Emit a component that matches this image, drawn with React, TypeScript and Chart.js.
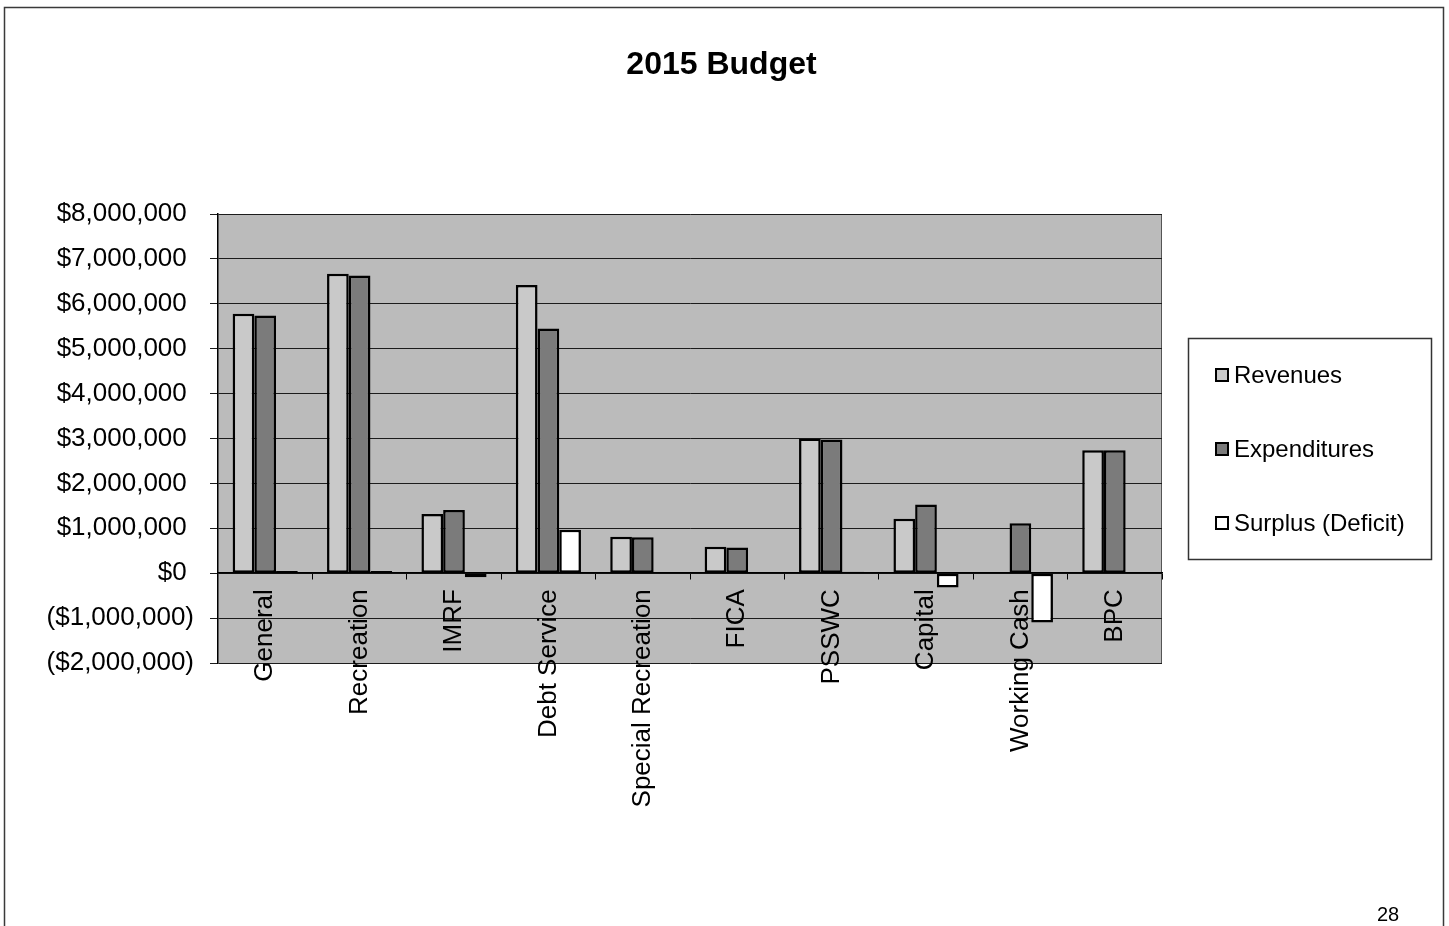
import React, { useEffect, useRef } from "react";
import { Chart, registerables } from "chart.js";

Chart.register(...registerables);

const TITLE = "2015 Budget";
const PAGE_NUMBER = "28";
const FUNDS = [
  "General",
  "Recreation",
  "IMRF",
  "Debt Service",
  "Special Recreation",
  "FICA",
  "PSSWC",
  "Capital",
  "Working Cash",
  "BPC",
];
const SERIES_NAMES = ["Revenues", "Expenditures", "Surplus (Deficit)"];
const REVENUES = [5780000, 6670000, 1320000, 6420000, 810000, 590000, 3000000, 1210000, 10000, 2740000];
const EXPENDITURES = [5740000, 6630000, 1410000, 5450000, 800000, 570000, 2980000, 1530000, 1110000, 2740000];
const SURPLUS = [50000, 50000, -90000, 970000, 10000, 20000, 30000, -320000, -1100000, 0];
const Y_MIN = -2000000;
const Y_MAX = 8000000;
const Y_STEP = 1000000;

const FONT = "'Liberation Sans', Arial, Helvetica, sans-serif";
const PLOT_BG = "#bbbbbb";
const COLORS = ["#c9c9c9", "#7b7b7b", "#ffffff"];

function formatMoney(v: number): string {
  const s = "$" + Math.abs(v).toLocaleString("en-US");
  return v < 0 ? "(" + s + ")" : s + " ";
}

const pagePlugin = {
  id: "pageDecor",
  beforeDraw(chart: any) {
    const { ctx, chartArea: a } = chart;
    ctx.save();
    ctx.fillStyle = "#ffffff";
    ctx.fillRect(0, 0, chart.width, chart.height);
    ctx.fillStyle = PLOT_BG;
    ctx.fillRect(a.left, a.top, a.right - a.left, a.bottom - a.top);
    // page frame
    ctx.strokeStyle = "#3a3a3a";
    ctx.lineWidth = 1.5;
    ctx.beginPath();
    ctx.moveTo(4.5, chart.height);
    ctx.lineTo(4.5, 7.5);
    ctx.lineTo(1443.5, 7.5);
    ctx.lineTo(1443.5, chart.height);
    ctx.stroke();
    // plot right edge
    ctx.strokeStyle = "#555";
    ctx.lineWidth = 1;
    ctx.beginPath();
    ctx.moveTo(a.right - 0.5, a.top);
    ctx.lineTo(a.right - 0.5, a.bottom);
    ctx.stroke();
    ctx.restore();
  },
  afterDraw(chart: any) {
    const { ctx, chartArea: a } = chart;
    ctx.save();
    // legend box
    const lx = a.right + 26;
    const ly = 338;
    const lw = 243;
    const lh = 221;
    ctx.strokeStyle = "#333";
    ctx.lineWidth = 1.5;
    ctx.strokeRect(lx + 0.5, ly + 0.5, lw, lh);
    ctx.font = `24px ${FONT}`;
    ctx.textBaseline = "middle";
    ctx.textAlign = "left";
    chart.data.datasets.forEach((ds: any, i: number) => {
      const cy = 375 + i * 74;
      const bx = lx + 27;
      ctx.fillStyle = ds.backgroundColor;
      ctx.fillRect(bx, cy - 7, 14, 14);
      ctx.strokeStyle = "#000";
      ctx.lineWidth = 2;
      ctx.strokeRect(bx + 1, cy - 6, 12, 12);
      ctx.fillStyle = "#000";
      ctx.fillText(ds.label, bx + 19, cy + 1);
    });
    // page number
    ctx.font = `20px ${FONT}`;
    ctx.textAlign = "center";
    ctx.textBaseline = "alphabetic";
    ctx.fillText(PAGE_NUMBER, 1388, 921);
    ctx.restore();
  },
};

export default function App() {
  const canvasRef = useRef<HTMLCanvasElement | null>(null);

  useEffect(() => {
    if (!canvasRef.current) return;
    const values = [REVENUES, EXPENDITURES, SURPLUS];
    const chart = new Chart(canvasRef.current, {
      type: "bar",
      data: {
        labels: FUNDS,
        datasets: SERIES_NAMES.map((name, i) => ({
          label: name,
          data: values[i],
          backgroundColor: COLORS[i],
          borderColor: "#000000",
          borderWidth: 2.5,
          borderSkipped: false,
          categoryPercentage: 0.69,
          barPercentage: 1.0,
          yAxisID: "y",
        })),
      },
      options: {
        responsive: false,
        maintainAspectRatio: false,
        animation: false,
        devicePixelRatio: 1,
        layout: { padding: { left: 0, right: 6, top: 0, bottom: 263 } },
        plugins: {
          legend: { display: false },
          tooltip: { enabled: false },
          title: {
            display: true,
            text: TITLE,
            color: "#000",
            font: { family: FONT, size: 32, weight: "bold" },
            padding: { top: 46, bottom: 129.6 },
          },
        },
        scales: {
          x: {
            position: { y: 0 } as any,
            offset: true,
            ticks: {
              autoSkip: false,
              minRotation: 90,
              maxRotation: 90,
              color: "#000",
              font: { family: FONT, size: 26 },
              padding: 10,
            },
            grid: {
              display: true,
              drawOnChartArea: false,
              drawTicks: true,
              tickLength: 6,
              color: "#000",
              offset: true,
            },
            border: { display: true, color: "#000", width: 1.5 },
          },
          y: {
            min: Y_MIN,
            max: Y_MAX,
            ticks: {
              stepSize: Y_STEP,
              color: "#000",
              font: { family: FONT, size: 26 },
              padding: 16,
              callback: (v: any) => formatMoney(Number(v)),
            },
            grid: { color: "#1c1c1c", lineWidth: 1, tickLength: 8, drawTicks: true },
            border: { display: true, color: "#000", width: 1.5 },
            afterFit: (scale: any) => {
              scale.width = 218;
            },
          },
          legendSpace: {
            type: "linear",
            position: "right",
            display: true,
            min: Y_MIN,
            max: Y_MAX,
            grid: { display: false, drawTicks: false },
            border: { display: false },
            ticks: { display: false },
            afterFit: (scale: any) => {
              scale.width = 281;
            },
          },
        },
      },
      plugins: [pagePlugin],
    });
    return () => chart.destroy();
  }, []);

  return (
    <div style={{ position: "fixed", left: 0, top: 0, width: 1449, height: 926, background: "#fff" }}>
      <canvas ref={canvasRef} width={1449} height={926} style={{ display: "block" }} />
    </div>
  );
}
